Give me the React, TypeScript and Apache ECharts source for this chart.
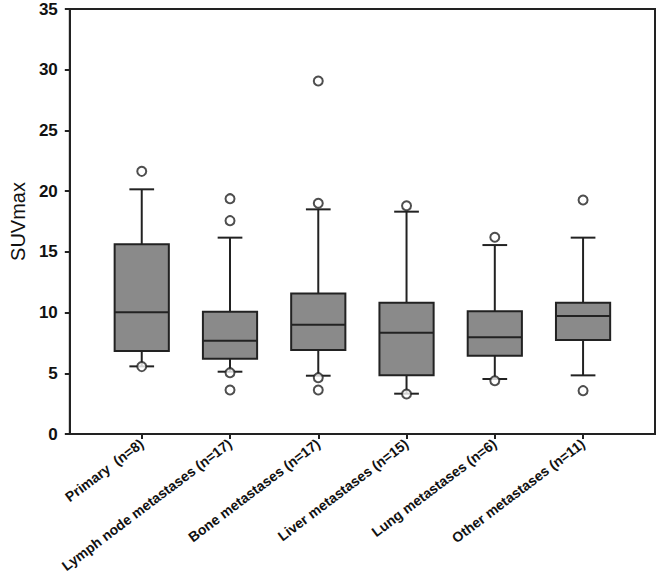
import React, { useEffect, useRef } from "react";
import * as echarts from "echarts";

const categories = [
  "Primary  (n=8)",
  "Lymph node metastases (n=17)",
  "Bone metastases (n=17)",
  "Liver metastases (n=15)",
  "Lung metastases (n=6)",
  "Other metastases (n=11)",
];
const whiskerLow = [5.57, 5.13, 4.8, 3.32, 4.53, 4.83];
const q1Values = [6.84, 6.2, 6.92, 4.83, 6.45, 7.74];
const medianValues = [10.02, 7.68, 9.0, 8.34, 7.96, 9.72];
const q3Values = [15.62, 10.07, 11.58, 10.81, 10.1, 10.81];
const whiskerHigh = [20.15, 16.17, 18.5, 18.31, 15.56, 16.17];
const outliers: number[][] = [
  [21.63, 5.55],
  [19.38, 17.57, 5.05, 3.62],
  [29.07, 19.0, 4.64, 3.62],
  [18.8, 3.29],
  [16.2, 4.39],
  [19.27, 3.57],
];
const yTicks = { min: 0, max: 35, interval: 5 };

const LINE = "#222222";
const FILL = "#8a8a8a";

export default function App() {
  const ref = useRef<HTMLDivElement>(null);
  useEffect(() => {
    if (!ref.current) return;
    const chart = echarts.init(ref.current, undefined, { renderer: "svg" });
    const positions = categories.map((_, i) => i + 1);
    const boxData = positions.map((x, i) => [
      x,
      whiskerLow[i],
      q1Values[i],
      medianValues[i],
      q3Values[i],
      whiskerHigh[i],
    ]);
    const outlierData: number[][] = [];
    outliers.forEach((list, i) => list.forEach((v) => outlierData.push([i + 1, v])));

    chart.setOption({
      animation: false,
      grid: {
        left: 62,
        top: 9,
        right: 2,
        bottom: 141,
        show: true,
        borderColor: LINE,
        borderWidth: 2,
        backgroundColor: "transparent",
      },
      xAxis: {
        type: "value",
        min: 0.185,
        max: 6.815,
        splitLine: { show: false },
        axisLine: { show: true, onZero: false, lineStyle: { color: LINE, width: 2 } },
        axisTick: {
          show: true,
          length: 5,
          customValues: positions,
          lineStyle: { color: LINE, width: 2 },
        },
        axisLabel: {
          customValues: positions,
          rotate: 37,
          margin: 8,
          color: "#111",
          fontFamily: "Liberation Sans, Arial, sans-serif",
          fontWeight: "bold",
          fontSize: 14,
          formatter: (v: number) => categories[Math.round(v) - 1] ?? "",
        },
      },
      yAxis: {
        type: "value",
        min: yTicks.min,
        max: yTicks.max,
        interval: yTicks.interval,
        name: "SUVmax",
        nameLocation: "middle",
        nameGap: 41,
        nameTextStyle: {
          fontFamily: "Liberation Sans, Arial, sans-serif",
          fontSize: 20,
          color: "#111",
        },
        splitLine: { show: false },
        axisLine: { show: true, lineStyle: { color: LINE, width: 2 } },
        axisTick: { show: true, length: 5, lineStyle: { color: LINE, width: 2 } },
        axisLabel: {
          margin: 12,
          color: "#111",
          fontFamily: "Liberation Sans, Arial, sans-serif",
          fontWeight: "bold",
          fontSize: 17,
        },
      },
      series: [
        {
          type: "custom",
          data: boxData,
          encode: { x: 0, y: [1, 2, 3, 4, 5] },
          renderItem: (params: any, api: any) => {
            const x = api.value(0);
            const lo = api.coord([x, api.value(1)]);
            const q1 = api.coord([x, api.value(2)]);
            const med = api.coord([x, api.value(3)]);
            const q3 = api.coord([x, api.value(4)]);
            const hi = api.coord([x, api.value(5)]);
            const boxW = api.size([0.614, 0])[0];
            const capW = api.size([0.28, 0])[0];
            const cx = lo[0];
            const ls = { stroke: LINE, lineWidth: 2 };
            return {
              type: "group",
              children: [
                { type: "line", shape: { x1: cx, y1: hi[1], x2: cx, y2: q3[1] }, style: ls },
                { type: "line", shape: { x1: cx, y1: q1[1], x2: cx, y2: lo[1] }, style: ls },
                { type: "line", shape: { x1: cx - capW / 2, y1: hi[1], x2: cx + capW / 2, y2: hi[1] }, style: ls },
                { type: "line", shape: { x1: cx - capW / 2, y1: lo[1], x2: cx + capW / 2, y2: lo[1] }, style: ls },
                {
                  type: "rect",
                  shape: { x: cx - boxW / 2, y: q3[1], width: boxW, height: q1[1] - q3[1] },
                  style: { fill: FILL, stroke: LINE, lineWidth: 2 },
                },
                { type: "line", shape: { x1: cx - boxW / 2, y1: med[1], x2: cx + boxW / 2, y2: med[1] }, style: ls },
              ],
            };
          },
          z: 2,
        },
        {
          type: "scatter",
          data: outlierData,
          symbol: "circle",
          symbolSize: 9,
          itemStyle: { color: "#ffffff", borderColor: LINE, borderWidth: 2 },
          z: 3,
        },
      ],
    });
    return () => chart.dispose();
  }, []);
  return (
    <div
      ref={ref}
      style={{ position: "fixed", left: 0, top: 0, width: 657, height: 575, background: "#fff" }}
    />
  );
}
